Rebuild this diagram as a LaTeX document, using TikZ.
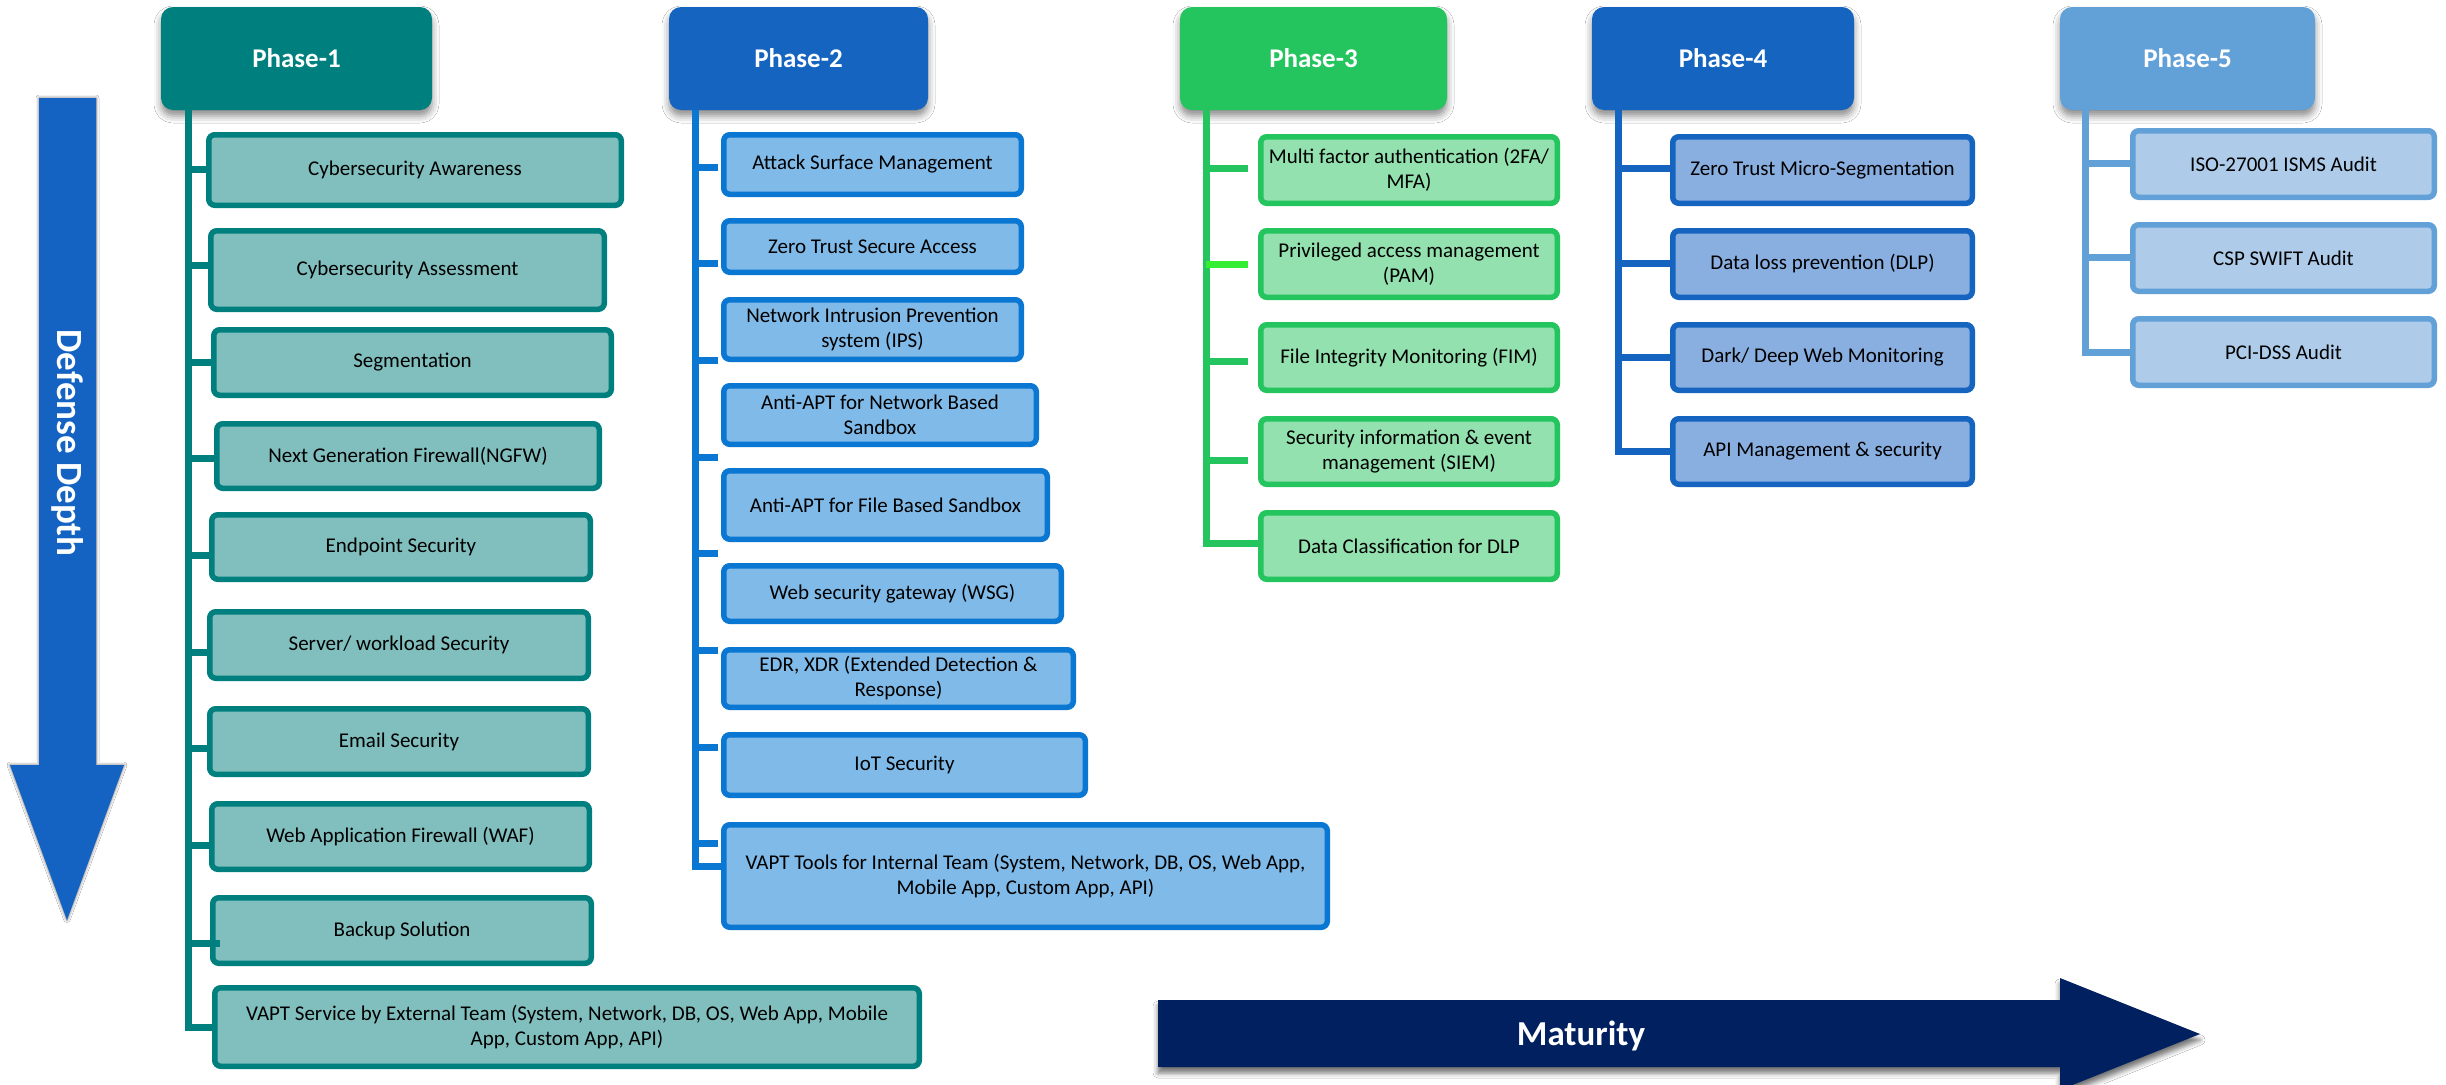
\documentclass[tikz,border=0pt]{standalone}
\usepackage{fontspec}
\setmainfont{Carlito}
\usetikzlibrary{shadows.blur,calc}
\definecolor{cA}{HTML}{007F7F}
\definecolor{cAf}{HTML}{80BFBE}
\definecolor{cBh}{HTML}{1565C0}
\definecolor{cB}{HTML}{0A77D3}
\definecolor{cBf}{HTML}{80BAE8}
\definecolor{cC}{HTML}{24C45E}
\definecolor{cCf}{HTML}{92E1AE}
\definecolor{cCb}{HTML}{33EE33}
\definecolor{cD}{HTML}{1565C0}
\definecolor{cDf}{HTML}{89AFE1}
\definecolor{cE}{HTML}{62A0D8}
\definecolor{cEf}{HTML}{AECCEA}
\definecolor{navy}{HTML}{002060}
\definecolor{arrblue}{HTML}{1462C2}
\newcommand\mybox[7]{%
  \pgfmathsetmacro\myCX{(#3+#5)/2}%
  \pgfmathsetmacro\myCY{(#4+#6)/2}%
  \pgfmathsetmacro\myBW{#5-#3-5.5}%
  \pgfmathsetmacro\myBH{#6-#4-5.5}%
  \node[#1,minimum width=\myBW pt,minimum height=\myBH pt] (#2) at (\myCX,\myCY) {#7};}
\newcommand\mystub[5]{%
  \coordinate (tmpS) at (0,#4);
  \draw[#1] (#2 |- tmpS) -- ([xshift=-#5pt]#3.west |- tmpS);}
\begin{document}
\begin{tikzpicture}[x=1pt,y=-1pt,
  kid/.style={rectangle, rounded corners=6pt, line width=5.5pt, align=center, inner xsep=1pt, inner ysep=1pt, font=\fontsize{21}{25}\selectfont, text=black},
  kA/.style={kid, draw=cA, fill=cAf},
  kB/.style={kid, draw=cB, fill=cBf},
  kC/.style={kid, draw=cC, fill=cCf},
  kD/.style={kid, draw=cD, fill=cDf},
  kE/.style={kid, draw=cE, fill=cEf},
  head/.style={rectangle, rounded corners=12pt, minimum height=103pt, text=white, font=\bfseries\fontsize{27}{32}\selectfont, blur shadow={shadow xshift=0pt, shadow yshift=-6pt, shadow blur radius=7pt, shadow opacity=45}},
  trunk/.style={line width=7pt},
]
\useasboundingbox (0,0) rectangle (2446,1084);
\fill[white] (0,0) rectangle (2446,1084);

% ---------- big arrows ----------
\fill[arrblue, blur shadow={shadow xshift=0pt, shadow yshift=0pt, shadow blur radius=3pt, shadow opacity=60}]
  (39,98) -- (96,98) -- (96,765) -- (124,765) -- (67,920) -- (10,765) -- (39,765) -- cycle;
\node[text=white, font=\bfseries\fontsize{37}{40}\selectfont, rotate=-90] (dd) at (68,443) {Defense Depth};

\fill[navy, blur shadow={shadow xshift=0pt, shadow yshift=-6pt, shadow blur radius=5pt, shadow opacity=55}]
  (1158,1000) -- (2060,1000) -- (2060,978) -- (2200,1034) -- (2060,1090) -- (2060,1067) -- (1158,1067) -- cycle;
\node[text=white, font=\bfseries\fontsize{35}{40}\selectfont] (mat) at (1581,1036) {Maturity};

% ---------- headers ----------
\node[head, fill=cA, minimum width=271pt] (h1) at (296.5,58.5) {Phase-1};
\node[head, fill=cBh, minimum width=259pt] (h2) at (798.5,58.5) {Phase-2};
\node[head, fill=cC, minimum width=267pt] (h3) at (1313.5,58.5) {Phase-3};
\node[head, fill=cD, minimum width=262pt] (h4) at (1723,58.5) {Phase-4};
\node[head, fill=cE, minimum width=255pt] (h5) at (2187.5,58.5) {Phase-5};

% ---------- Phase-1 ----------
\mybox{kA}{k11}{206}{132}{624}{208}{Cybersecurity Awareness}
\mybox{kA}{k12}{208}{228}{607}{312}{Cybersecurity Assessment}
\mybox{kA}{k13}{211}{327}{614}{398}{Segmentation}
\mybox{kA}{k14}{214}{421}{602}{491}{Next Generation Firewall(NGFW)}
\mybox{kA}{k15}{209}{512}{593}{582}{Endpoint Security}
\mybox{kA}{k16}{207}{609}{591}{681}{Server/ workload Security}
\mybox{kA}{k17}{207}{706}{591}{777}{Email Security}
\mybox{kA}{k18}{209}{801}{592}{872}{Web Application Firewall (WAF)}
\mybox{kA}{k19}{210}{895}{594}{966}{Backup Solution}
\mybox{kA}{k1a}{212}{985}{922}{1069}{VAPT Service by External Team (System, Network, DB, OS, Web App, Mobile\\App, Custom App, API)}

\coordinate (T1) at (188,0);
\draw[trunk, cA] (h1.south -| T1) |- (k1a.west);
\mystub{trunk,cA}{T1}{k11}{169}{0}
\mystub{trunk,cA}{T1}{k12}{265}{0}
\mystub{trunk,cA}{T1}{k13}{362}{0}
\mystub{trunk,cA}{T1}{k14}{458}{0}
\mystub{trunk,cA}{T1}{k15}{555}{0}
\mystub{trunk,cA}{T1}{k16}{652}{0}
\mystub{trunk,cA}{T1}{k17}{748}{0}
\mystub{trunk,cA}{T1}{k18}{845}{0}
\mystub{trunk,cA}{T1}{k19}{943}{-10}

% ---------- Phase-2 ----------
\mybox{kB}{k21}{721}{132}{1024}{197}{Attack Surface Management}
\mybox{kB}{k22}{721}{218}{1024}{275}{Zero Trust Secure Access}
\mybox{kB}{k23}{721}{297}{1024}{362}{Network Intrusion Prevention\\system (IPS)}
\mybox{kB}{k24}{721}{383}{1039}{447}{Anti-APT for Network Based\\Sandbox}
\mybox{kB}{k25}{721}{468}{1050}{542}{Anti-APT for File Based Sandbox}
\mybox{kB}{k26}{721}{563}{1064}{624}{Web security gateway (WSG)}
\mybox{kB}{k27}{721}{647}{1076}{710}{EDR, XDR (Extended Detection \&\\Response)}
\mybox{kB}{k28}{721}{732}{1088}{798}{IoT Security}
\mybox{kB}{k29}{721}{822}{1330}{930}{VAPT Tools for Internal Team (System, Network, DB, OS, Web App,\\Mobile App, Custom App, API)}

\coordinate (T2) at (695,0);
\coordinate (E2) at (0,866);
\draw[trunk, cB] (h2.south -| T2) |- (k29.west |- E2);
\mystub{trunk,cB}{T2}{k21}{167}{3}
\mystub{trunk,cB}{T2}{k22}{263}{3}
\mystub{trunk,cB}{T2}{k23}{360}{3}
\mystub{trunk,cB}{T2}{k24}{457}{3}
\mystub{trunk,cB}{T2}{k25}{553}{3}
\mystub{trunk,cB}{T2}{k26}{650}{3}
\mystub{trunk,cB}{T2}{k27}{747}{3}
\mystub{trunk,cB}{T2}{k28}{843}{3}

% ---------- Phase-3 ----------
\mybox{kC}{k31}{1258}{134}{1560}{206}{Multi factor authentication (2FA/\\MFA)}
\mybox{kC}{k32}{1258}{228}{1560}{300}{Privileged access management\\(PAM)}
\mybox{kC}{k33}{1258}{322}{1560}{393}{File Integrity Monitoring (FIM)}
\mybox{kC}{k34}{1258}{416}{1560}{487}{Security information \& event\\management (SIEM)}
\mybox{kC}{k35}{1258}{510}{1560}{582}{Data Classification for DLP}

\coordinate (T3) at (1206,0);
\coordinate (E3) at (0,543);
\draw[trunk, cC] (h3.south -| T3) |- (k35.west |- E3);
\mystub{trunk,cC}{T3}{k31}{168}{10}
\mystub{trunk,cCb}{T3}{k32}{264}{10}
\mystub{trunk,cC}{T3}{k33}{361}{10}
\mystub{trunk,cC}{T3}{k34}{460}{10}

% ---------- Phase-4 ----------
\mybox{kD}{k41}{1670}{134}{1975}{206}{Zero Trust Micro-Segmentation}
\mybox{kD}{k42}{1670}{228}{1975}{300}{Data loss prevention (DLP)}
\mybox{kD}{k43}{1670}{322}{1975}{393}{Dark/ Deep Web Monitoring}
\mybox{kD}{k44}{1670}{416}{1975}{487}{API Management \& security}

\coordinate (T4) at (1618,0);
\draw[trunk, cD] (h4.south -| T4) |- (k44.west);
\mystub{trunk,cD}{T4}{k41}{168}{0}
\mystub{trunk,cD}{T4}{k42}{263}{0}
\mystub{trunk,cD}{T4}{k43}{357}{0}

% ---------- Phase-5 ----------
\mybox{kE}{k51}{2130}{128}{2437}{200}{ISO-27001 ISMS Audit}
\mybox{kE}{k52}{2130}{222}{2437}{294}{CSP SWIFT Audit}
\mybox{kE}{k53}{2130}{316}{2437}{388}{PCI-DSS Audit}

\coordinate (T5) at (2085,0);
\draw[trunk, cE] (h5.south -| T5) |- (k53.west);
\mystub{trunk,cE}{T5}{k51}{163}{0}
\mystub{trunk,cE}{T5}{k52}{257}{0}
\end{tikzpicture}
\end{document}
